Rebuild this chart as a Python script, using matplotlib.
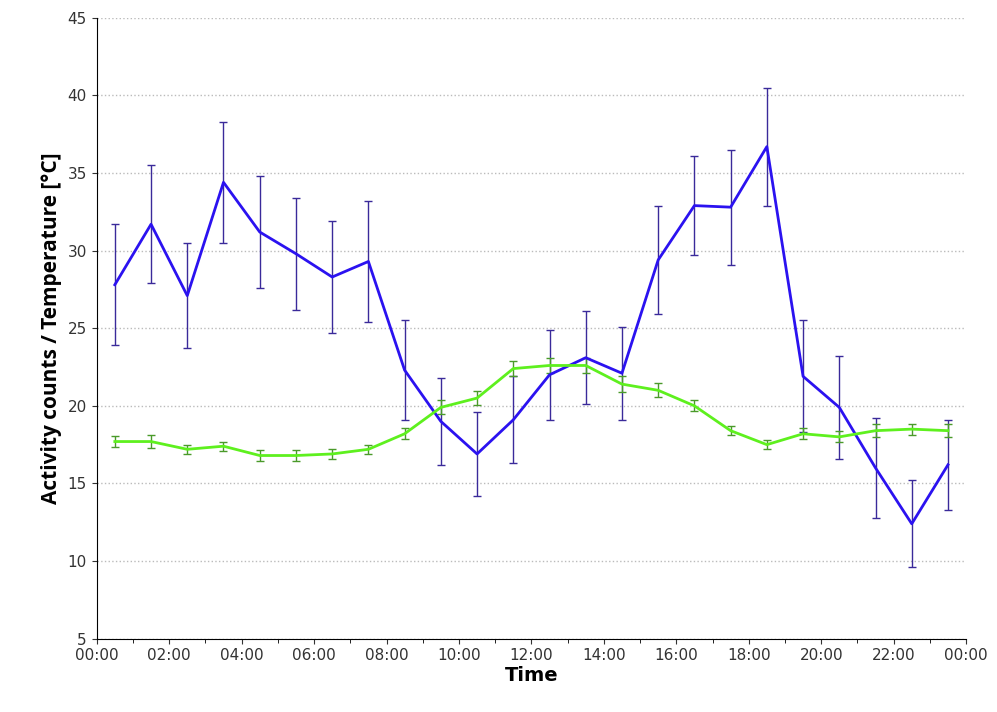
import numpy as np
import matplotlib.pyplot as plt

hours = np.arange(0.5, 24, 1.0)
activity = [27.8, 31.7, 27.1, 34.4, 31.2, 29.8, 28.3, 29.3, 22.3, 19.0, 16.9, 19.1,
            22.0, 23.1, 22.1, 29.4, 32.9, 32.8, 36.7, 21.9, 19.9, 16.0, 12.4, 16.2]
activity_err = [3.9, 3.8, 3.4, 3.9, 3.6, 3.6, 3.6, 3.9, 3.2, 2.8, 2.7, 2.8,
                2.9, 3.0, 3.0, 3.5, 3.2, 3.7, 3.8, 3.6, 3.3, 3.2, 2.8, 2.9]
temp = [17.7, 17.7, 17.2, 17.4, 16.8, 16.8, 16.9, 17.2, 18.2, 19.9, 20.5, 22.4,
        22.6, 22.6, 21.4, 21.0, 20.0, 18.4, 17.5, 18.2, 18.0, 18.4, 18.5, 18.4]
temp_err = [0.35, 0.4, 0.3, 0.3, 0.35, 0.35, 0.3, 0.3, 0.35, 0.45, 0.45, 0.5,
            0.5, 0.5, 0.5, 0.45, 0.35, 0.3, 0.3, 0.35, 0.35, 0.4, 0.35, 0.4]
xticklabels = ["%02d:00" % h for h in range(0, 25, 2)]
xticklabels[-1] = "00:00"

fig = plt.figure(figsize=(9.97, 7.12), dpi=100)
ax = fig.add_axes([0.097, 0.103, 0.872, 0.872])

ax.errorbar(hours, activity, yerr=activity_err, color="#2b12f0", lw=2,
            ecolor="#3a2a9a", elinewidth=1, capsize=3, zorder=3)
ax.errorbar(hours, temp, yerr=temp_err, color="#5ef01e", lw=2,
            ecolor="#4a9a2a", elinewidth=1, capsize=3, zorder=3)

ax.set_xlim(0, 24)
ax.set_ylim(5, 45)
ax.set_xticks(range(0, 25, 2))
ax.set_xticklabels(xticklabels)
ax.set_xticks(range(0, 25), minor=True)
ax.set_yticks(range(5, 46, 5))
ax.yaxis.grid(True, linestyle=":", color="#bbbbbb", lw=1)
for s in ["top", "right"]:
    ax.spines[s].set_visible(False)
ax.tick_params(labelsize=11, color="#333333", labelcolor="#333333")
ax.tick_params(which="minor", length=3)
ax.set_xlabel("Time", fontsize=14, fontweight="bold", labelpad=2)
ax.set_ylabel("Activity counts / Temperature [°C]", fontsize=15, fontweight="bold",
              family=["Open Sans", "DejaVu Sans"])

fig.savefig("out.png")
